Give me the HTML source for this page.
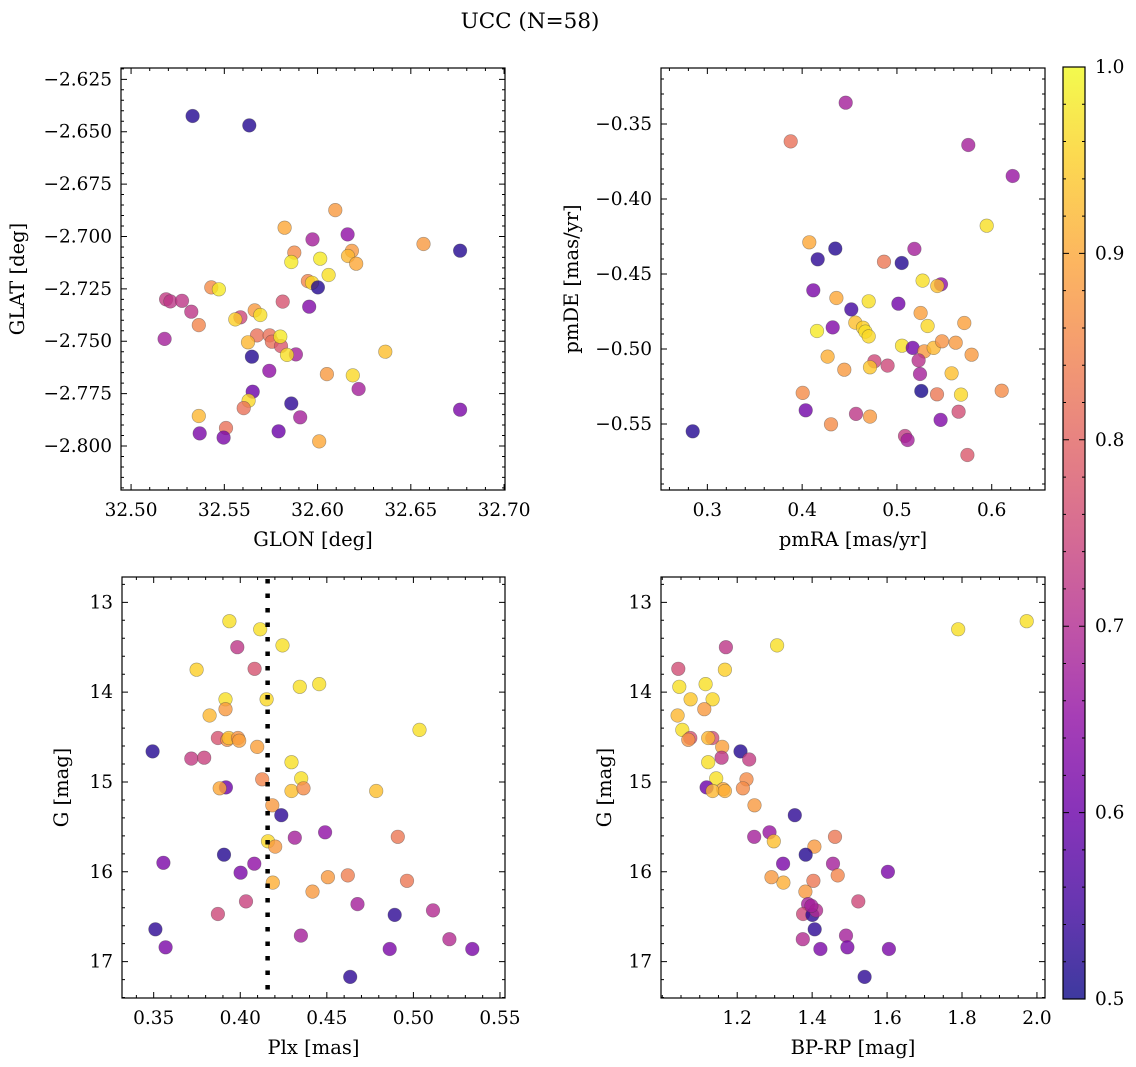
<!DOCTYPE html>
<html><head><meta charset="utf-8"><title>UCC (N=58)</title>
<style>
html,body{margin:0;padding:0;background:#fff;}
svg{display:block;font-family:"DejaVu Serif","Liberation Serif",serif;}
</style></head>
<body>
<svg id="fig" width="1136" height="1067" viewBox="0 0 1136 1067" xmlns="http://www.w3.org/2000/svg">
<defs>
<linearGradient id="plasmaGrad" x1="0" y1="1" x2="0" y2="0">
<stop offset="0" stop-color="#0d0887"/><stop offset="0.1" stop-color="#41049d"/><stop offset="0.2" stop-color="#6a00a8"/><stop offset="0.3" stop-color="#8f0da4"/><stop offset="0.4" stop-color="#b12a90"/><stop offset="0.5" stop-color="#cc4778"/><stop offset="0.6" stop-color="#e16462"/><stop offset="0.7" stop-color="#f2844b"/><stop offset="0.8" stop-color="#fca636"/><stop offset="0.9" stop-color="#fcce25"/><stop offset="1" stop-color="#f0f921"/>
</linearGradient>
</defs>
<text x="530" y="28" font-size="21.5" text-anchor="middle">UCC (N=58)</text>
</svg>
<script>
// Panel 1: GLON / GLAT
const p1x=[32.533,32.5634,32.6095,32.5823,32.5973,32.6161,32.6568,32.6764,32.5875,32.5859,32.6014,32.6184,32.6163,32.6207,32.6059,32.5948,32.5970,32.6002,32.5430,32.5471,32.5188,32.5211,32.5273,32.5323,32.5363,32.5180,32.5813,32.5955,32.5663,32.5693,32.5586,32.5559,32.5675,32.5743,32.5755,32.5804,32.5800,32.5627,32.5884,32.5836,32.5648,32.5741,32.6050,32.6189,32.6363,32.6220,32.5652,32.5630,32.5604,32.5859,32.5907,32.5363,32.5509,32.5368,32.5496,32.5791,32.6009,32.6764];
const p1y=[-2.6425,-2.6470,-2.6874,-2.6958,-2.7014,-2.6990,-2.7036,-2.7068,-2.7077,-2.7122,-2.7106,-2.7069,-2.7093,-2.7130,-2.7184,-2.7213,-2.7221,-2.7243,-2.7243,-2.7252,-2.7300,-2.7310,-2.7307,-2.7359,-2.7423,-2.7489,-2.7311,-2.7335,-2.7353,-2.7375,-2.7386,-2.7396,-2.7472,-2.7472,-2.7502,-2.7523,-2.7478,-2.7505,-2.7563,-2.7565,-2.7574,-2.7641,-2.7657,-2.7663,-2.7550,-2.7728,-2.7741,-2.7784,-2.7819,-2.7797,-2.7863,-2.7857,-2.7914,-2.7940,-2.7960,-2.7930,-2.7978,-2.7827];
const p1c=[0.52,0.52,0.88,0.9,0.68,0.65,0.88,0.52,0.86,0.98,0.98,0.88,0.92,0.9,0.97,0.85,0.96,0.52,0.86,0.98,0.73,0.72,0.72,0.72,0.85,0.68,0.77,0.63,0.88,0.97,0.75,0.95,0.82,0.82,0.82,0.78,0.98,0.92,0.68,0.97,0.52,0.65,0.88,0.96,0.93,0.68,0.6,0.96,0.82,0.53,0.68,0.92,0.82,0.62,0.62,0.6,0.9,0.62];
// Panel 2: pmRA / pmDE
const p2x=[0.4459,0.3879,0.5753,0.6221,0.5947,0.4076,0.4350,0.4164,0.5184,0.4864,0.5050,0.5271,0.5465,0.5426,0.4118,0.4361,0.4702,0.4519,0.5015,0.5250,0.5711,0.5324,0.4157,0.4322,0.4561,0.4642,0.4667,0.4702,0.5053,0.5166,0.5289,0.5388,0.5475,0.5620,0.5788,0.4269,0.4762,0.4716,0.4902,0.5229,0.4445,0.5243,0.5577,0.5257,0.5423,0.5676,0.6105,0.4006,0.4037,0.4568,0.4716,0.5651,0.5461,0.4304,0.2845,0.5085,0.5113,0.5743];
const p2y=[-0.3358,-0.3616,-0.3640,-0.3847,-0.4178,-0.4289,-0.4331,-0.4402,-0.4333,-0.4418,-0.4427,-0.4544,-0.4569,-0.4580,-0.4609,-0.4660,-0.4682,-0.4736,-0.4698,-0.4760,-0.4827,-0.4847,-0.4880,-0.4856,-0.4824,-0.4858,-0.4884,-0.4916,-0.4978,-0.4993,-0.5016,-0.4993,-0.4949,-0.4958,-0.5038,-0.5051,-0.5082,-0.5122,-0.5111,-0.5076,-0.5138,-0.5167,-0.5162,-0.5280,-0.5302,-0.5304,-0.5278,-0.5293,-0.5409,-0.5433,-0.5451,-0.5418,-0.5473,-0.5502,-0.5549,-0.5580,-0.5607,-0.5707];
const p2c=[0.68,0.82,0.68,0.66,0.97,0.9,0.52,0.53,0.68,0.83,0.52,0.97,0.65,0.93,0.62,0.9,0.97,0.55,0.61,0.89,0.89,0.96,0.98,0.63,0.93,0.95,0.97,0.96,0.97,0.61,0.88,0.92,0.87,0.88,0.88,0.91,0.75,0.94,0.75,0.71,0.88,0.68,0.93,0.51,0.83,0.96,0.86,0.86,0.61,0.72,0.88,0.76,0.63,0.86,0.52,0.73,0.68,0.78];
// Panel 3: Plx / G
const p3x=[0.3937,0.4115,0.3983,0.4244,0.3748,0.4083,0.4344,0.4456,0.3915,0.4152,0.3915,0.3823,0.3871,0.3925,0.3933,0.3987,0.3994,0.4098,0.3494,0.3717,0.3792,0.4296,0.4352,0.4127,0.3917,0.3881,0.4296,0.4365,0.4785,0.4185,0.4237,0.4315,0.4490,0.4910,0.4160,0.4202,0.3906,0.3556,0.4081,0.4002,0.4188,0.4506,0.4621,0.4963,0.4417,0.4033,0.4677,0.3871,0.4892,0.5113,0.3510,0.4350,0.5208,0.3569,0.4863,0.5340,0.4635,0.5035];
const p3y=[13.21,13.30,13.50,13.48,13.75,13.74,13.94,13.91,14.08,14.08,14.19,14.26,14.51,14.53,14.51,14.51,14.54,14.61,14.66,14.74,14.73,14.78,14.96,14.97,15.06,15.07,15.10,15.07,15.10,15.26,15.37,15.62,15.56,15.61,15.66,15.72,15.81,15.90,15.91,16.01,16.12,16.06,16.04,16.10,16.22,16.33,16.36,16.47,16.48,16.43,16.64,16.71,16.75,16.84,16.86,16.86,17.17,14.42];
const p3c=[0.97,0.97,0.72,0.97,0.95,0.77,0.97,0.97,0.97,0.96,0.88,0.92,0.77,0.87,0.93,0.87,0.89,0.89,0.52,0.73,0.74,0.97,0.97,0.85,0.6,0.9,0.93,0.86,0.93,0.88,0.53,0.68,0.65,0.83,0.96,0.88,0.52,0.62,0.65,0.62,0.91,0.88,0.84,0.83,0.88,0.74,0.68,0.75,0.53,0.7,0.53,0.68,0.7,0.62,0.62,0.62,0.53,0.97];
const plxLine=[0.4158];
// Panel 4: BP-RP / G
const p4x=[1.9726,1.7897,1.1698,1.3066,1.0428,1.1671,1.0455,1.1156,1.0757,1.1343,1.1121,1.0410,1.0535,1.0748,1.0694,1.1334,1.1227,1.1600,1.2089,1.1583,1.2320,1.1227,1.1440,1.2249,1.1183,1.1627,1.1343,1.1671,1.2151,1.2462,1.3536,1.2453,1.2861,1.4611,1.2977,1.4060,1.3829,1.3226,1.4558,1.6023,1.3234,1.2915,1.4682,1.4034,1.3821,1.5233,1.3892,1.3758,1.4007,1.4105,1.4069,1.4904,1.3750,1.4220,1.4940,1.6050,1.5401,1.3980];
const p4y=[13.21,13.30,13.50,13.48,13.74,13.75,13.94,13.91,14.08,14.08,14.19,14.26,14.42,14.51,14.53,14.51,14.51,14.61,14.66,14.73,14.75,14.78,14.96,14.97,15.06,15.08,15.10,15.10,15.07,15.26,15.37,15.61,15.56,15.61,15.66,15.72,15.81,15.91,15.91,16.00,16.12,16.06,16.04,16.10,16.22,16.33,16.36,16.47,16.48,16.43,16.64,16.71,16.75,16.86,16.84,16.86,17.17,16.38];
const p4c=[0.97,0.97,0.72,0.97,0.76,0.95,0.97,0.97,0.94,0.96,0.88,0.92,0.97,0.77,0.87,0.76,0.92,0.89,0.52,0.72,0.73,0.97,0.97,0.86,0.6,0.9,0.92,0.91,0.86,0.88,0.53,0.68,0.66,0.83,0.93,0.88,0.52,0.62,0.68,0.62,0.91,0.88,0.85,0.83,0.88,0.75,0.68,0.75,0.53,0.7,0.53,0.68,0.7,0.62,0.62,0.62,0.53,0.68];
// Tick labels
const p1xTicks=[32.50,32.55,32.60,32.65,32.70];
const p1yTicks=[-2.625,-2.650,-2.675,-2.700,-2.725,-2.750,-2.775,-2.800];
const p2xTicks=[0.3,0.4,0.5,0.6];
const p2yTicks=[-0.35,-0.40,-0.45,-0.50,-0.55];
const p3xTicks=[0.35,0.40,0.45,0.50,0.55];
const gTicks=[13,14,15,16,17];
const p4xTicks=[1.2,1.4,1.6,1.8,2.0];
const cbTicks=[0.5,0.6,0.7,0.8,0.9,1.0];
const cbRange=[0.5,1.0];

const NS="http://www.w3.org/2000/svg";
const svg=document.getElementById('fig');
const plasma=[[13,8,135],[65,4,157],[106,0,168],[143,13,164],[177,42,144],[204,71,120],[225,100,98],[242,132,75],[252,166,54],[252,206,37],[240,249,33]];
function cmap(v){
  let t=(v-cbRange[0])/(cbRange[1]-cbRange[0]);t=Math.max(0,Math.min(1,t))*10;
  const i=Math.min(9,Math.floor(t)),f=t-i,a=plasma[i],b=plasma[i+1];
  return 'rgb('+a.map((x,k)=>Math.round(x+(b[k]-x)*f)).join(',')+')';
}
function mk(tag,attrs,parent){const e=document.createElementNS(NS,tag);for(const k in attrs)e.setAttribute(k,attrs[k]);(parent||svg).appendChild(e);return e;}
function fmt(v,d){const s=Math.abs(v).toFixed(d);return (v<0?'\u2212':'')+s;}

function panel(cfg){
  const g=mk('g',{});
  
  
  const {l,t,r,b}=cfg;
  const sx=v=>l+(v-cfg.xd[0])/(cfg.xd[1]-cfg.xd[0])*(r-l);
  const sy=v=>t+(v-cfg.yd[0])/(cfg.yd[1]-cfg.yd[0])*(b-t);
  const pts=mk('g',{},g);
  
  
  for(let i=0;i<cfg.x.length;i++){
    const c=mk('circle',{cx:sx(cfg.x[i]).toFixed(1),cy:sy(cfg.y[i]).toFixed(1),r:6.8,fill:cmap(cfg.c[i]),'fill-opacity':0.8,stroke:'rgba(60,60,60,0.45)','stroke-width':0.6},pts);
    
    
  }
  if(cfg.vline){
    for(const v of cfg.vline){
      const ln=mk('line',{x1:sx(v),x2:sx(v),y1:t+2,y2:b,stroke:'#000','stroke-width':4.5,'stroke-dasharray':'4.5,10'},g);
      
      
    }
  }
  const fr=mk('rect',{x:l,y:t,width:r-l,height:b-t,fill:'none',stroke:'#000','stroke-width':1.2},g);
  
  
  let d='';
  for(const v of cfg.xt){const x=sx(v);d+=`M${x},${b}v-6M${x},${t}v6`;}
  for(const v of cfg.yt){const y=sy(v);d+=`M${l},${y}h6M${r},${y}h-6`;}
  const lo=Math.min(...cfg.xd),hi=Math.max(...cfg.xd);
  for(let k=Math.ceil(lo/cfg.xm-1e-6);k*cfg.xm<=hi+1e-9;k++){const x=sx(k*cfg.xm);if(x<l||x>r)continue;d+=`M${x},${b}v-3M${x},${t}v3`;}
  const ylo=Math.min(...cfg.yd),yhi=Math.max(...cfg.yd);
  for(let k=Math.ceil(ylo/cfg.ym-1e-6);k*cfg.ym<=yhi+1e-9;k++){const y=sy(k*cfg.ym);if(y<t||y>b)continue;d+=`M${l},${y}h3M${r},${y}h-3`;}
  const tk=mk('path',{d:d,stroke:'#000','stroke-width':1,fill:'none'},g);
  
  
  for(const v of cfg.xt){
    const tx=mk('text',{x:sx(v),y:b+26,'font-size':18.5,'text-anchor':'middle'},g);
    tx.textContent=fmt(v,cfg.xf);
    
    
  }
  for(const v of cfg.yt){
    const tx=mk('text',{x:l-9,y:sy(v)+6,'font-size':18.5,'text-anchor':'end'},g);
    tx.textContent=fmt(v,cfg.yf);
    
    
  }
  const xl=mk('text',{x:(l+r)/2,y:b+56,'font-size':19.5,'text-anchor':'middle'},g);
  xl.textContent=cfg.xlab;
  
  
  const yl=mk('text',{x:0,y:0,'font-size':19.5,'text-anchor':'middle',transform:`translate(${cfg.ylx},${(t+b)/2}) rotate(-90)`},g);
  yl.textContent=cfg.ylab;
  
  
}

panel({name:'glon-glat-panel',l:121,r:505,t:68,b:490,xd:[32.4946,32.7005],yd:[-2.6196,-2.821],x:p1x,y:p1y,c:p1c,xt:p1xTicks,yt:p1yTicks,xm:0.01,ym:0.005,xf:2,yf:3,xlab:'GLON [deg]',ylab:'GLAT [deg]',ylx:24});
panel({name:'pm-panel',l:661,r:1045,t:68,b:490,xd:[0.2511,0.6562],yd:[-0.3127,-0.594],x:p2x,y:p2y,c:p2c,xt:p2xTicks,yt:p2yTicks,xm:0.02,ym:0.01,xf:1,yf:2,xlab:'pmRA [mas/yr]',ylab:'pmDE [mas/yr]',ylx:578});
panel({name:'plx-g-panel',l:122,r:505,t:577,b:998,xd:[0.3317,0.5529],yd:[12.718,17.405],x:p3x,y:p3y,c:p3c,xt:p3xTicks,yt:gTicks,xm:0.01,ym:0.2,xf:2,yf:0,xlab:'Plx [mas]',ylab:'G [mag]',ylx:68,vline:plxLine});
panel({name:'cmd-panel',l:661,r:1045,t:577,b:998,xd:[0.9966,2.0215],yd:[12.718,17.405],x:p4x,y:p4y,c:p4c,xt:p4xTicks,yt:gTicks,xm:0.05,ym:0.2,xf:1,yf:0,xlab:'BP-RP [mag]',ylab:'G [mag]',ylx:611});

(function(){
  const l=1063,r=1085,t=67,b=999;
  const g=mk('g',{});
  
  
  const rc=mk('rect',{x:l,y:t,width:r-l,height:b-t,fill:'url(#plasmaGrad)','fill-opacity':0.8},g);
  
  
  const fr=mk('rect',{x:l,y:t,width:r-l,height:b-t,fill:'none',stroke:'#000','stroke-width':1.2},g);
  
  
  const sy=v=>b-(v-cbRange[0])/(cbRange[1]-cbRange[0])*(b-t);
  let d='';
  for(let k=0;k<=25;k++){const v=cbRange[0]+k*0.02;const y=sy(v);d+=(k%5===0)?`M${r},${y}h-6M${l},${y}h6`:`M${r},${y}h-3M${l},${y}h3`;}
  const tk=mk('path',{d:d,stroke:'#000','stroke-width':1,fill:'none'},g);
  
  
  for(const v of cbTicks){
    const tx=mk('text',{x:r+10,y:sy(v)+6,'font-size':18.5},g);
    tx.textContent=v.toFixed(1);
    
    
  }
})();
</script>
</body></html>
